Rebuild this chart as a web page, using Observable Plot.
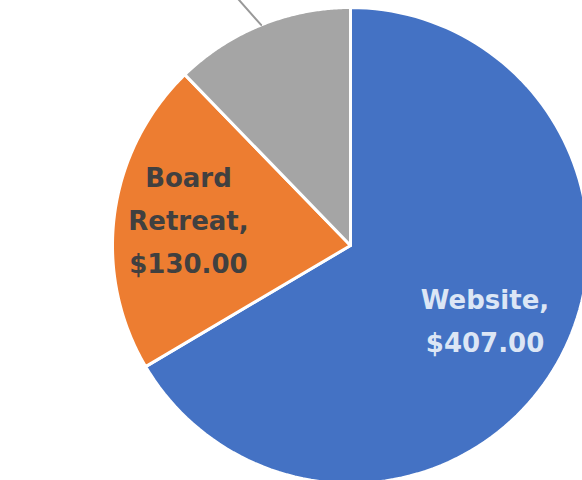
<!DOCTYPE html>
<html><head><meta charset="utf-8">
<script src="https://cdn.jsdelivr.net/npm/d3@7"></script>
<script src="https://cdn.jsdelivr.net/npm/@observablehq/plot@0.6"></script>
<style>html,body{margin:0;padding:0;background:#fff;overflow:hidden}</style>
</head><body><div id="chart"></div>
<script>
const categories = ["Website", "Board Retreat", "Other"];
const amounts = [407, 130, 75];
const labels = ["Website,\n$407.00", "Board\nRetreat,\n$130.00", ""];
const colors = ["#4472C4", "#ED7D31", "#A5A5A5"];
const labelColors = ["#DCE6F5", "#404040", "#404040"];

const W = 582, H = 480, cx = 350, cy = 245, R = 238;
const data = categories.map((c, i) => ({category: c, amount: amounts[i], label: labels[i]}));
const arcs = d3.pie().sort(null).value(d => d.amount)(data);

const pt = (a, r) => ({x: r * Math.sin(a), y: r * Math.cos(a)});
const polys = [];
arcs.forEach((s, i) => {
  const n = 120;
  polys.push({...pt(0, 0), k: i});
  for (let j = 0; j <= n; j++) {
    const a = s.startAngle + (s.endAngle - s.startAngle) * j / n;
    polys.push({...pt(a, 1), k: i});
  }
});
const labelPts = arcs.map((s, i) => {
  const m = (s.startAngle + s.endAngle) / 2;
  return {...pt(m, 0.67), text: s.data.label, k: i};
});
const g = arcs[2];
const gm = (g.startAngle + g.endAngle) / 2;
const leader = [pt(gm, 1.0), pt(gm - 0.07, 1.25)];

const plot = Plot.plot({
  width: W, height: H, margin: 0,
  style: {overflow: "hidden", background: "#fff"},
  x: {domain: [-cx / R, (W - cx) / R], axis: null},
  y: {domain: [(cy - H) / R, cy / R], axis: null},
  marks: [
    Plot.line(polys, {x: "x", y: "y", z: "k", fill: d => colors[d.k], stroke: "#fff", strokeWidth: 3, strokeLinejoin: "round", curve: "linear-closed"}),
    Plot.line(leader, {x: "x", y: "y", stroke: "#999999", strokeWidth: 2}),
    Plot.text(labelPts, {x: "x", y: "y", text: "text", fill: d => labelColors[d.k], fontSize: 26, fontWeight: "bold", fontFamily: "DejaVu Sans", lineHeight: 1.65, textAnchor: "middle", dx: -4, dy: -8})
  ]
});
document.getElementById("chart").appendChild(plot);
</script>
</body></html>
